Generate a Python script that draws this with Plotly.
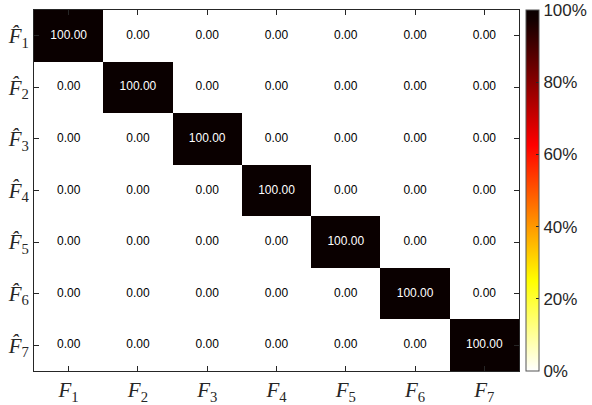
import plotly.graph_objects as go

true_labels = ["<i>F</i><sub>%d</sub>" % i for i in range(1, 8)]
pred_labels = ["<i>F\u0302</i><sub>%d</sub>" % i for i in range(1, 8)]
values = [
    [100.00, 0.00, 0.00, 0.00, 0.00, 0.00, 0.00],
    [0.00, 100.00, 0.00, 0.00, 0.00, 0.00, 0.00],
    [0.00, 0.00, 100.00, 0.00, 0.00, 0.00, 0.00],
    [0.00, 0.00, 0.00, 100.00, 0.00, 0.00, 0.00],
    [0.00, 0.00, 0.00, 0.00, 100.00, 0.00, 0.00],
    [0.00, 0.00, 0.00, 0.00, 0.00, 100.00, 0.00],
    [0.00, 0.00, 0.00, 0.00, 0.00, 0.00, 100.00],
]
cbar_ticks = [0, 20, 40, 60, 80, 100]
cbar_labels = ["0%", "20%", "40%", "60%", "80%", "100%"]

# reversed MATLAB "hot"
hot_r = [
    [0.0, "rgb(255,255,255)"],
    [0.25, "rgb(255,255,0)"],
    [0.625, "rgb(255,0,0)"],
    [0.97, "rgb(20,0,0)"],
    [1.0, "rgb(10,0,0)"],
]

fig = go.Figure(go.Heatmap(
    z=values, x=true_labels, y=pred_labels,
    colorscale=hot_r, zmin=0, zmax=100,
    colorbar=dict(
        x=1.0145, xanchor="left", xpad=0, y=0.5, yanchor="middle", ypad=0,
        len=1, lenmode="fraction", thickness=13,
        outlinewidth=1, outlinecolor="#555",
        tickvals=cbar_ticks, ticktext=cbar_labels,
        ticks="inside", ticklen=3, tickcolor="#262626",
        tickfont=dict(family="Liberation Sans, Arial, sans-serif", size=17, color="#262626"),
    ),
    hoverinfo="skip",
))

# cell value labels
tx, ty, tt, tc = [], [], [], []
for i, row in enumerate(values):
    for j, v in enumerate(row):
        tx.append(true_labels[j])
        ty.append(pred_labels[i])
        tt.append("%.2f" % v)
        tc.append("white" if v > 50 else "black")

fig.add_trace(go.Scatter(
    x=tx, y=ty, text=tt, mode="text",
    textfont=dict(family="Liberation Sans, Arial, sans-serif", size=12, color=tc),
    showlegend=False, hoverinfo="skip",
))

axis_common = dict(
    showline=True, mirror="ticks", linecolor="#262626", linewidth=1,
    ticks="inside", ticklen=5, tickcolor="#262626",
    tickfont=dict(family="Liberation Serif, DejaVu Serif, serif", size=21, color="#262626"),
    showgrid=False, zeroline=False, automargin=False,
)

fig.update_layout(
    width=592, height=405,
    margin=dict(l=34, r=73, t=10, b=34, autoexpand=False),
    paper_bgcolor="white", plot_bgcolor="white",
    xaxis=dict(**axis_common),
    yaxis=dict(**axis_common, autorange="reversed", ticklabelstandoff=0),
)

fig.write_html("out.html",
               config={"displayModeBar": False},
               post_script="document.body.style.margin='0';document.body.style.overflow='hidden';")
